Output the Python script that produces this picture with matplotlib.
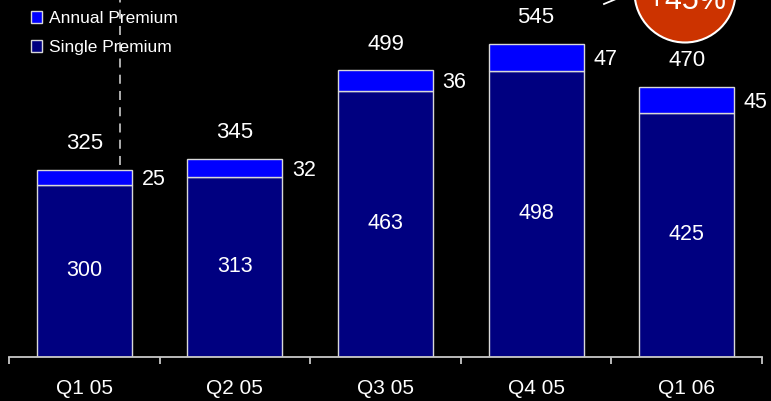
import matplotlib.pyplot as plt
from matplotlib.patches import Circle
import numpy as np

# data
quarters = ["Q1 05", "Q2 05", "Q3 05", "Q4 05", "Q1 06"]
single_premium = [300, 313, 463, 498, 425]
annual_premium = [25, 32, 36, 47, 45]
totals = [325, 345, 499, 545, 470]
growth_label = "+45%"

plt.rcParams["font.family"] = ["Liberation Sans", "DejaVu Sans"]

W, H = 771, 401
fig = plt.figure(figsize=(W / 100, H / 100), dpi=100, facecolor="black")
ax = fig.add_axes([9 / W, (H - 356.5) / H, 753 / W, 356.5 / H])
ax.set_facecolor("black")

x = np.arange(len(quarters))
bw = 0.63
edge = "#D8D8D8"
b1 = ax.bar(x, single_premium, bw, color="#000080", edgecolor=edge, linewidth=1,
            label="Single Premium", zorder=2)
b2 = ax.bar(x, annual_premium, bw, bottom=single_premium, color="#0000FF",
            edgecolor=edge, linewidth=1, label="Annual Premium", zorder=2)

ax.set_xlim(-0.5, 4.5)
ax.set_ylim(0, 622)

for i in range(len(x)):
    # total on top
    ax.annotate(str(totals[i]), (x[i], totals[i]), xytext=(0, 19),
                textcoords="offset points", ha="center", va="center",
                color="white", fontsize=16)
    # single premium inside
    ax.text(x[i], single_premium[i] / 2, str(single_premium[i]), ha="center",
            va="center", color="white", fontsize=15.5)
    # annual premium to the right
    ax.annotate(str(annual_premium[i]),
                (x[i] + bw / 2, single_premium[i] + annual_premium[i] / 2),
                xytext=(7, -1.5), textcoords="offset points", ha="left",
                va="center", color="white", fontsize=15.5)

# dashed marker line
ax.vlines(0.235, 334, 622, colors="#BBBBBB", linestyles=(0, (5, 4)),
          linewidth=1.3, zorder=1, clip_on=False)

# axes styling
for s in ["top", "left", "right"]:
    ax.spines[s].set_visible(False)
ax.spines["bottom"].set_color("#C8C8C8")
ax.spines["bottom"].set_linewidth(1.3)
ax.set_yticks([])
ax.set_xticks(x)
ax.set_xticklabels(quarters, color="white", fontsize=15)
ax.tick_params(axis="x", which="major", length=0, pad=16.5)
ax.set_xticks(np.arange(-0.5, 5, 1), minor=True)
ax.tick_params(axis="x", which="minor", length=5, width=1.3, color="#C8C8C8",
               direction="out")

# legend
leg = ax.legend(handles=[b2, b1], loc="upper left",
                bbox_to_anchor=(31 / W, 1 - 11 / H), bbox_transform=fig.transFigure,
                frameon=False, fontsize=12.5, labelcolor="white", handlelength=0.65,
                handleheight=0.65, handletextpad=0.4, labelspacing=0.8,
                borderpad=0, borderaxespad=0)

# overlay in pixel coordinates for the growth bubble
ov = fig.add_axes([0, 0, 1, 1], facecolor="none")
ov.set_xlim(0, W)
ov.set_ylim(H, 0)
ov.axis("off")
ov.add_patch(Circle((685, -8), 50.5, facecolor="#CC3300", edgecolor="white",
                    linewidth=1.5))
ov.text(687, 1, growth_label, ha="center", va="center", color="white",
        fontsize=22)
ov.plot([604, 616], [4, -1], color="white", linewidth=1.3)

fig.savefig("out.png", dpi=100, facecolor="black")
